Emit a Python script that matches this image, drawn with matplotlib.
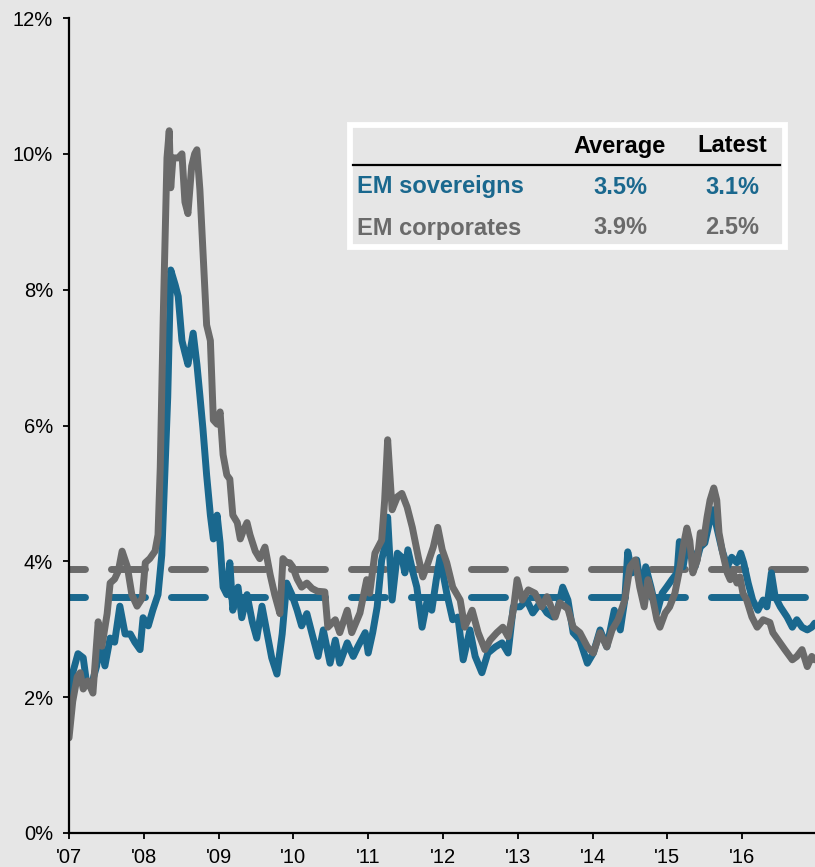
"""
Spread of EM sovereign vs EM corporate bonds, 2007-2016.
Output: out.png
"""

import matplotlib.pyplot as plt
from matplotlib.lines import Line2D
from matplotlib.patches import Rectangle

plt.rcParams["font.family"] = ["Liberation Sans", "DejaVu Sans"]

BG = "#e6e6e6"
BLUE = "#1a688e"
GRAY = "#6a6a6a"

# EM corporates (gray)
corp_years = [
    2007.00, 2007.05, 2007.11, 2007.15, 2007.19, 2007.25, 2007.32, 2007.39, 2007.44, 2007.51,
    2007.55, 2007.61, 2007.66, 2007.71, 2007.78, 2007.84, 2007.91, 2007.98, 2008.02, 2008.08,
    2008.15, 2008.19, 2008.22, 2008.26, 2008.31, 2008.34, 2008.36, 2008.39, 2008.46, 2008.51,
    2008.55, 2008.59, 2008.64, 2008.68, 2008.71, 2008.75, 2008.79, 2008.84, 2008.89, 2008.93,
    2008.98, 2009.02, 2009.06, 2009.11, 2009.15, 2009.19, 2009.25, 2009.29, 2009.33, 2009.38,
    2009.42, 2009.49, 2009.55, 2009.62, 2009.69, 2009.75, 2009.82, 2009.86, 2009.91, 2009.95,
    2009.99, 2010.05, 2010.11, 2010.18, 2010.25, 2010.32, 2010.42, 2010.46, 2010.56, 2010.62,
    2010.72, 2010.78, 2010.89, 2010.98, 2011.02, 2011.09, 2011.18, 2011.22, 2011.26, 2011.32,
    2011.39, 2011.45, 2011.52, 2011.59, 2011.67, 2011.73, 2011.80, 2011.87, 2011.93, 2011.99,
    2012.05, 2012.13, 2012.23, 2012.29, 2012.39, 2012.47, 2012.56, 2012.63, 2012.72, 2012.80,
    2012.87, 2012.94, 2012.99, 2013.06, 2013.14, 2013.23, 2013.32, 2013.39, 2013.50, 2013.56,
    2013.67, 2013.74, 2013.83, 2013.93, 2014.01, 2014.10, 2014.19, 2014.26, 2014.34, 2014.43,
    2014.50, 2014.57, 2014.63, 2014.69, 2014.74, 2014.79, 2014.86, 2014.90, 2014.97, 2015.03,
    2015.10, 2015.17, 2015.22, 2015.26, 2015.30, 2015.34, 2015.40, 2015.44, 2015.48, 2015.53,
    2015.57, 2015.62, 2015.66, 2015.69, 2015.74, 2015.80, 2015.84, 2015.88, 2015.93, 2015.97,
    2016.01, 2016.06, 2016.13, 2016.20, 2016.28, 2016.37, 2016.41, 2016.48, 2016.57, 2016.67,
    2016.73, 2016.80, 2016.87, 2016.93, 2016.97,
]
corp_values = [
    1.40, 1.94, 2.30, 2.36, 2.12, 2.24, 2.06, 3.11, 2.75, 3.23,
    3.68, 3.74, 3.86, 4.15, 3.92, 3.51, 3.34, 3.46, 3.98, 4.04,
    4.15, 4.39, 5.38, 7.60, 9.94, 10.34, 9.50, 9.94, 9.94, 10.00,
    9.29, 9.12, 9.82, 10.00, 10.06, 9.47, 8.59, 7.48, 7.25, 6.08,
    6.02, 6.20, 5.57, 5.27, 5.21, 4.68, 4.57, 4.33, 4.45, 4.57,
    4.39, 4.15, 4.04, 4.21, 3.80, 3.51, 3.23, 4.04, 3.98, 3.98,
    3.92, 3.74, 3.62, 3.68, 3.60, 3.56, 3.55, 3.03, 3.14, 2.95,
    3.28, 2.95, 3.24, 3.73, 3.53, 4.12, 4.31, 4.90, 5.79, 4.76,
    4.95, 5.00, 4.80, 4.50, 4.06, 3.77, 3.98, 4.21, 4.50, 4.17,
    3.98, 3.62, 3.43, 3.03, 3.28, 2.95, 2.70, 2.84, 2.95, 3.03,
    2.89, 3.28, 3.73, 3.43, 3.58, 3.53, 3.33, 3.48, 3.18, 3.39,
    3.30, 3.03, 2.95, 2.74, 2.65, 2.95, 2.74, 2.99, 3.14, 3.43,
    3.92, 4.02, 3.62, 3.33, 3.73, 3.53, 3.14, 3.03, 3.24, 3.33,
    3.53, 3.92, 4.27, 4.49, 4.30, 3.83, 4.02, 4.42, 4.27, 4.65,
    4.90, 5.08, 4.90, 4.42, 4.12, 3.83, 3.73, 3.83, 3.68, 3.77,
    3.53, 3.43, 3.18, 3.03, 3.14, 3.10, 2.95, 2.84, 2.70, 2.55,
    2.60, 2.70, 2.45, 2.60, 2.55,
]

# EM sovereigns (blue)
sov_years = [
    2007.00, 2007.05, 2007.12, 2007.19, 2007.24, 2007.31, 2007.37, 2007.41, 2007.48, 2007.55,
    2007.61, 2007.68, 2007.75, 2007.82, 2007.88, 2007.95, 2007.99, 2008.06, 2008.12, 2008.19,
    2008.24, 2008.28, 2008.32, 2008.36, 2008.42, 2008.46, 2008.51, 2008.55, 2008.59, 2008.66,
    2008.71, 2008.75, 2008.79, 2008.84, 2008.89, 2008.93, 2008.98, 2009.02, 2009.06, 2009.11,
    2009.15, 2009.19, 2009.26, 2009.31, 2009.38, 2009.45, 2009.51, 2009.58, 2009.65, 2009.71,
    2009.78, 2009.85, 2009.91, 2009.98, 2010.05, 2010.11, 2010.18, 2010.25, 2010.33, 2010.40,
    2010.49, 2010.56, 2010.62, 2010.72, 2010.80, 2010.86, 2010.96, 2011.00, 2011.06, 2011.12,
    2011.18, 2011.22, 2011.26, 2011.32, 2011.39, 2011.45, 2011.49, 2011.53, 2011.60, 2011.65,
    2011.72, 2011.79, 2011.85, 2011.91, 2011.96, 2012.05, 2012.13, 2012.20, 2012.27, 2012.36,
    2012.43, 2012.52, 2012.60, 2012.70, 2012.79, 2012.87, 2012.94, 2013.03, 2013.12, 2013.20,
    2013.30, 2013.39, 2013.47, 2013.54, 2013.60, 2013.67, 2013.74, 2013.83, 2013.93, 2014.01,
    2014.10, 2014.19, 2014.29, 2014.37, 2014.43, 2014.47, 2014.53, 2014.59, 2014.66, 2014.71,
    2014.78, 2014.86, 2014.93, 2014.99, 2015.06, 2015.13, 2015.16, 2015.21, 2015.26, 2015.33,
    2015.37, 2015.44, 2015.50, 2015.57, 2015.61, 2015.66, 2015.73, 2015.80, 2015.86, 2015.93,
    2015.98, 2016.02, 2016.08, 2016.14, 2016.21, 2016.28, 2016.33, 2016.39, 2016.44, 2016.51,
    2016.60, 2016.67, 2016.73, 2016.80, 2016.87, 2016.93, 2016.97,
]
sov_values = [
    1.80, 2.36, 2.64, 2.58, 2.17, 2.22, 2.46, 2.81, 2.46, 2.87,
    2.81, 3.34, 2.93, 2.93, 2.81, 2.70, 3.17, 3.05, 3.28, 3.51,
    4.09, 5.26, 6.42, 8.29, 8.07, 7.90, 7.25, 7.07, 6.90, 7.36,
    6.90, 6.44, 5.96, 5.27, 4.68, 4.33, 4.68, 4.27, 3.62, 3.51,
    3.98, 3.28, 3.62, 3.17, 3.51, 3.11, 2.87, 3.34, 2.93, 2.58,
    2.34, 2.93, 3.68, 3.51, 3.28, 3.05, 3.23, 2.93, 2.60, 2.99,
    2.50, 2.84, 2.50, 2.80, 2.60, 2.74, 2.95, 2.65, 2.95, 3.33,
    4.02, 4.21, 4.65, 3.43, 4.12, 4.06, 3.83, 4.17, 3.83, 3.62,
    3.03, 3.43, 3.28, 3.73, 4.06, 3.53, 3.14, 3.18, 2.55, 2.99,
    2.60, 2.36, 2.65, 2.74, 2.80, 2.65, 3.33, 3.33, 3.43, 3.24,
    3.39, 3.24, 3.18, 3.33, 3.62, 3.43, 2.95, 2.84, 2.50, 2.65,
    2.99, 2.74, 3.28, 2.99, 3.43, 4.14, 3.83, 4.02, 3.53, 3.92,
    3.62, 3.24, 3.53, 3.62, 3.73, 3.83, 4.29, 3.92, 4.27, 4.12,
    3.92, 4.21, 4.27, 4.61, 4.76, 4.50, 4.17, 3.92, 4.06, 3.98,
    4.12, 3.98, 3.68, 3.43, 3.28, 3.43, 3.33, 3.83, 3.48, 3.33,
    3.18, 3.03, 3.14, 3.03, 2.99, 3.03, 3.09,
]

SOV_AVERAGE = 3.47
CORP_AVERAGE = 3.89

year_ticks = list(range(2007, 2017))
year_labels = ["'07", "'08", "'09", "'10", "'11", "'12", "'13", "'14", "'15", "'16"]
pct_ticks = [0, 2, 4, 6, 8, 10, 12]
pct_labels = ["0%", "2%", "4%", "6%", "8%", "10%", "12%"]

table_header = ["Average", "Latest"]
table_rows = [
    ("EM sovereigns", "3.5%", "3.1%", BLUE),
    ("EM corporates", "3.9%", "2.5%", GRAY),
]

W, H = 815, 867
LINE_W = 5.0


def fx(px):
    return px / W


def fy(py):
    return 1 - py / H


fig = plt.figure(figsize=(W / 100, H / 100), dpi=100, facecolor=BG)
ax = fig.add_axes([fx(69), fy(833), 746 / W, 815 / H])
ax.set_facecolor(BG)

# dashed averages (pattern in units of line width)
dash_style = (2.6, (4.9, 3.74))
ax.axhline(CORP_AVERAGE, color=GRAY, lw=LINE_W, linestyle=dash_style,
           dash_capstyle="round", zorder=2)
ax.axhline(SOV_AVERAGE, color=BLUE, lw=LINE_W, linestyle=dash_style,
           dash_capstyle="round", zorder=2)

ax.plot(sov_years, sov_values, color=BLUE, lw=LINE_W, solid_joinstyle="round",
        solid_capstyle="round", zorder=3)
ax.plot(corp_years, corp_values, color=GRAY, lw=LINE_W, solid_joinstyle="round",
        solid_capstyle="round", zorder=4)

ax.set_xlim(2007, 2007 + 746 / 74.8)
ax.set_ylim(0, 12)
ax.set_xticks(year_ticks)
ax.set_xticklabels(year_labels)
ax.set_yticks(pct_ticks)
ax.set_yticklabels(pct_labels)

for side in ("top", "right"):
    ax.spines[side].set_visible(False)
for side in ("left", "bottom"):
    ax.spines[side].set_linewidth(1.6)
    ax.spines[side].set_zorder(5)
ax.tick_params(axis="both", direction="out", length=4.5, width=1.3, labelsize=14.5,
               colors="black")
ax.tick_params(axis="x", pad=6.5)
ax.tick_params(axis="y", pad=7)

# summary table
fig.add_artist(Rectangle((fx(350), fy(247)), 435 / W, 122 / H, transform=fig.transFigure,
                         fill=False, edgecolor="white", lw=4.2, zorder=6))
fig.add_artist(Line2D([fx(353), fx(780)], [fy(165), fy(165)], transform=fig.transFigure,
                      color="black", lw=1.6, zorder=6))

col_x = [620, 732]
for label, cx in zip(table_header, col_x):
    fig.text(fx(cx), fy(146), label, ha="center", va="center", fontsize=17,
             fontweight="bold", color="black", zorder=7)
for (name, avg, latest, color), ry in zip(table_rows, [187, 228]):
    fig.text(fx(357), fy(ry), name, ha="left", va="center", fontsize=17,
             fontweight="bold", color=color, zorder=7)
    for val, cx in zip((avg, latest), col_x):
        fig.text(fx(cx), fy(ry), val, ha="center", va="center", fontsize=17,
                 fontweight="bold", color=color, zorder=7)

fig.savefig("out.png", dpi=100, facecolor=BG)
